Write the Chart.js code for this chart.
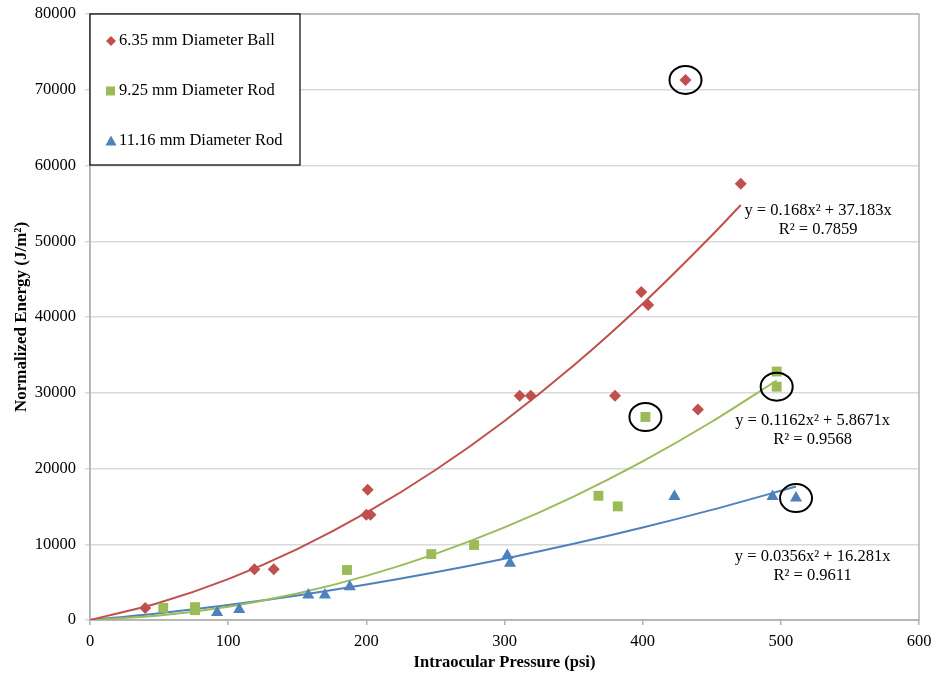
<!DOCTYPE html>
<html>
<head>
<meta charset="utf-8">
<script src="https://cdn.jsdelivr.net/npm/chart.js@4/dist/chart.umd.min.js"></script>
<style>
  html, body { margin: 0; padding: 0; background: #fff; }
</style>
</head>
<body>
<canvas id="chart" width="932" height="673"></canvas>
<script>
// Measured points (pressure in psi, normalized energy in J/m2)
const ballX = [40, 119, 133, 200, 203, 201, 311, 319, 380, 399, 404, 440, 471, 431];
const ballY = [1600, 6700, 6700, 13900, 13900, 17200, 29600, 29600, 29600, 43300, 41600, 27800, 57600, 71300];

const rod925X = [53, 76, 76, 186, 247, 278, 368, 382, 402, 497, 497];
const rod925Y = [1600, 1300, 1700, 6600, 8700, 9900, 16400, 15000, 26800, 32800, 30800];

const rod1116X = [92, 108, 158, 170, 188, 302, 304, 423, 494, 511];
const rod1116Y = [1000, 1400, 3300, 3300, 4400, 8500, 7500, 16300, 16300, 16100];

// Trend lines
const ballTrendX = [0, 50, 100, 150, 200, 250, 300, 350, 400, 450, 471];
const ballTrendY = [0, 2280, 5400, 9360, 14160, 19800, 26280, 33590, 41750, 50750, 54780];
const rod925TrendX = [0, 50, 100, 150, 200, 250, 300, 350, 400, 450, 497];
const rod925TrendY = [0, 580, 1750, 3490, 5820, 8730, 12220, 16290, 20940, 26170, 31620];
const rod1116TrendX = [0, 50, 100, 150, 200, 250, 300, 350, 400, 450, 511];
const rod1116TrendY = [0, 900, 1980, 3240, 4680, 6300, 8090, 10060, 12210, 14540, 17620];

// Circled outliers
const circledX = [431, 402, 497, 511];
const circledY = [71300, 26800, 30800, 16100];

const seriesNames = ['6.35 mm Diameter Ball', '9.25 mm Diameter Rod', '11.16 mm Diameter Rod'];
const seriesColors = ['#C0504D', '#9BBB59', '#4F81BD'];
const seriesMarkers = ['rectRot', 'rect', 'triangle'];

const equations = [
  ['y = 0.168x\u00B2 + 37.183x', 'R\u00B2 = 0.7859'],
  ['y = 0.1162x\u00B2 + 5.8671x', 'R\u00B2 = 0.9568'],
  ['y = 0.0356x\u00B2 + 16.281x', 'R\u00B2 = 0.9611']
];
const equationAnchorX = [527, 523, 523];
const equationAnchorY = [52900, 25100, 7140];

const serif = '"Liberation Serif", "Times New Roman", serif';

const toPoints = (xs, ys) => xs.map((x, i) => ({ x: x, y: ys[i] }));

const pointSets = [toPoints(ballX, ballY), toPoints(rod925X, rod925Y), toPoints(rod1116X, rod1116Y)];
const trendSets = [
  toPoints(ballTrendX, ballTrendY),
  toPoints(rod925TrendX, rod925TrendY),
  toPoints(rod1116TrendX, rod1116TrendY)
];

const datasets = [];
seriesNames.forEach((name, i) => {
  datasets.push({
    label: name,
    data: pointSets[i],
    pointStyle: seriesMarkers[i],
    pointRadius: [6, 7, 7][i],
    backgroundColor: seriesColors[i],
    borderColor: seriesColors[i],
    borderWidth: 0,
    showLine: false,
    order: 0
  });
});
trendSets.forEach((pts, i) => {
  datasets.push({
    label: seriesNames[i] + ' trend',
    data: pts,
    showLine: true,
    pointRadius: 0,
    borderColor: seriesColors[i],
    borderWidth: 2,
    tension: 0.4,
    cubicInterpolationMode: 'monotone',
    order: 1
  });
});

const extrasPlugin = {
  id: 'extras',
  beforeDatasetsDraw(chart) {
    const ctx = chart.ctx;
    const a = chart.chartArea;
    ctx.save();
    ctx.strokeStyle = '#b3b3b3';
    ctx.lineWidth = 1.5;
    ctx.strokeRect(a.left, a.top, a.right - a.left, a.bottom - a.top);
    ctx.restore();
  },
  afterDatasetsDraw(chart) {
    const ctx = chart.ctx;
    const xs = chart.scales.x;
    const ys = chart.scales.y;
    ctx.save();

    // circles round outliers
    ctx.strokeStyle = '#000';
    ctx.lineWidth = 2;
    circledX.forEach((v, i) => {
      const px = xs.getPixelForValue(v);
      const py = ys.getPixelForValue(circledY[i]);
      ctx.beginPath();
      ctx.ellipse(px, py, 16, 14, 0, 0, Math.PI * 2);
      ctx.stroke();
    });

    // trend equations
    ctx.fillStyle = '#000';
    ctx.font = '16.5px ' + serif;
    ctx.textAlign = 'center';
    ctx.textBaseline = 'middle';
    equations.forEach((lines, i) => {
      const px = xs.getPixelForValue(equationAnchorX[i]);
      const py = ys.getPixelForValue(equationAnchorY[i]);
      ctx.fillText(lines[0], px, py - 9);
      ctx.fillText(lines[1], px, py + 10);
    });

    // legend box
    const a = chart.chartArea;
    const bx = a.left, by = a.top, bw = 210, bh = 151;
    ctx.fillStyle = '#fff';
    ctx.fillRect(bx, by, bw, bh);
    ctx.strokeStyle = '#000';
    ctx.lineWidth = 1.2;
    ctx.strokeRect(bx, by, bw, bh);
    ctx.textAlign = 'left';
    seriesNames.forEach((name, i) => {
      const ly = by + 27 + i * 50;
      ctx.fillStyle = seriesColors[i];
      ctx.beginPath();
      if (seriesMarkers[i] === 'rectRot') {
        ctx.moveTo(bx + 21, ly - 5); ctx.lineTo(bx + 26, ly); ctx.lineTo(bx + 21, ly + 5); ctx.lineTo(bx + 16, ly);
      } else if (seriesMarkers[i] === 'rect') {
        ctx.rect(bx + 16, ly - 4.5, 9, 9);
      } else {
        ctx.moveTo(bx + 21, ly - 5.5); ctx.lineTo(bx + 26.5, ly + 4.5); ctx.lineTo(bx + 15.5, ly + 4.5);
      }
      ctx.closePath();
      ctx.fill();
      ctx.fillStyle = '#000';
      ctx.fillText(name, bx + 29, ly);
    });
    ctx.restore();
  }
};

new Chart(document.getElementById('chart'), {
  type: 'scatter',
  data: { datasets: datasets },
  options: {
    responsive: false,
    animation: false,
    devicePixelRatio: 1,
    layout: { padding: { top: 14, right: 13, left: 0, bottom: 0 } },
    plugins: {
      legend: { display: false },
      tooltip: { enabled: false }
    },
    scales: {
      x: {
        type: 'linear',
        min: 0,
        max: 600,
        ticks: {
          stepSize: 100,
          color: '#000',
          font: { family: serif, size: 16.5 },
          padding: 7,
          maxRotation: 0
        },
        grid: { drawOnChartArea: false, tickLength: 5, color: '#b3b3b3', lineWidth: 1.5 },
        border: { color: '#b3b3b3', width: 1.5 },
        title: {
          display: true,
          text: 'Intraocular Pressure (psi)',
          color: '#000',
          font: { family: serif, size: 16.5, weight: 'bold' },
          padding: { top: 4, bottom: 0 }
        },
        afterFit(scale) {
          scale.height = 53;
          scale.paddingRight = 0;
          scale.paddingLeft = 0;
        }
      },
      y: {
        min: 0,
        max: 80000,
        ticks: {
          stepSize: 10000,
          color: '#000',
          font: { family: serif, size: 16.5 },
          padding: 9,
          callback: (v) => String(v)
        },
        grid: { color: '#d9d9d9', lineWidth: 1.5, tickLength: 5 },
        border: { color: '#b3b3b3', width: 1.5 },
        title: {
          display: true,
          text: 'Normalized Energy (J/m\u00B2)',
          color: '#000',
          font: { family: serif, size: 17, weight: 'bold' },
          padding: { top: 11, bottom: 4 }
        },
        afterFit(scale) {
          scale.width = 90;
          scale.paddingTop = 0;
          scale.paddingBottom = 0;
        }
      }
    }
  },
  plugins: [extrasPlugin]
});
</script>
</body>
</html>
